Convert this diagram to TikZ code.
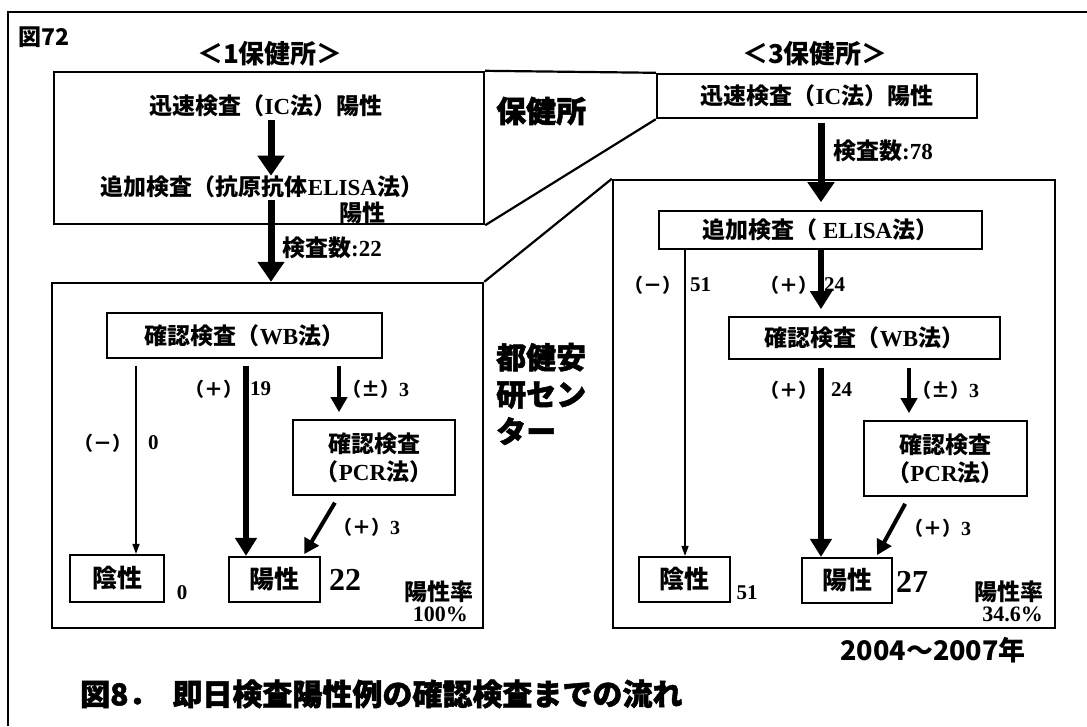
\documentclass[tikz,border=0pt]{standalone}
\usepackage{fontspec}
\setmainfont{Noto Sans CJK JP}
\newfontfamily\rom{Liberation Serif}
\newfontfamily\heavy{Noto Sans CJK JP}[BoldFeatures={FakeBold=1.6}]
\usetikzlibrary{arrows.meta}

\newcommand{\signnum}[1]{{\rom\fontsize{20}{24}\selectfont #1}}

\tikzset{
    panel/.style={draw, line width=2.4pt, inner sep=0pt},
    testbox/.style={draw, line width=1.6pt, inner sep=0pt, align=center,
        font=\bfseries\fontsize{23}{28}\selectfont},
    resbox/.style={draw, line width=2.2pt, inner sep=0pt,
        font=\bfseries\fontsize{25}{28}\selectfont},
    jp/.style={inner sep=0pt, font=\bfseries\fontsize{23}{28}\selectfont},
    cnt/.style={inner sep=0pt, font=\bfseries\fontsize{23}{27}\selectfont},
    sign/.style={inner sep=0pt, font=\bfseries\fontsize{19}{23}\selectfont},
    num/.style={inner sep=0pt, font=\rom\bfseries\fontsize{21}{24}\selectfont},
    bignum/.style={inner sep=0pt, font=\rom\bfseries\fontsize{32}{36}\selectfont},
    rate/.style={inner sep=0pt, font=\bfseries\fontsize{23}{26}\selectfont},
    ratenum/.style={inner sep=0pt, font=\rom\bfseries\fontsize{22}{24}\selectfont},
    head/.style={inner sep=0pt, font=\bfseries\fontsize{26}{30}\selectfont},
    side/.style={inner sep=0pt, align=left, font=\heavy\bfseries\fontsize{30}{37}\selectfont},
    bigarr/.style={line width=7pt, -{Triangle[width=26pt,length=20pt]}},
    thickarr/.style={line width=5.5pt, -{Triangle[width=21pt,length=18pt]}},
    midarr/.style={line width=4pt, -{Triangle[width=16pt,length=15pt]}},
    thinarr/.style={line width=1.5pt, -{Triangle[width=7pt,length=10pt]}},
    funnel/.style={line width=2.2pt}
}

\begin{document}
\begin{tikzpicture}[x=1pt, y=-1pt]
    \useasboundingbox (0,0) rectangle (1087,726);

    % Frame
    \draw[line width=2pt] (8,726) -- (8,12) -- (1087,12);

    % Headings
    \node[head, font=\bfseries\fontsize{23}{26}\selectfont, anchor=west] (fig72) at (18,37) {図72};
    \node[head] (headL) at (270,54) {＜1保健所＞};
    \node[head] (headR) at (815,54) {＜3保健所＞};

    % 1 hokenjo, upper box
    \node[panel, minimum width=430pt, minimum height=152pt] (hcL) at (269,148) {};
    \node[jp] (icL) at (266,106) {迅速検査（{\rom IC}法）陽性};
    \node[jp] (elisaL) at (262,187) {追加検査（抗原抗体{\rom ELISA}法）};
    \node[jp] (posL) at (362,213) {陽性};
    \draw[bigarr, shorten <=3pt] (271,0 |- icL.south) -- (271,0 |- elisaL.north);

    % 1 hokenjo, lower box
    \node[panel, minimum width=431pt, minimum height=345pt] (cenL) at (267.5,455.5) {};
    \draw[bigarr, shorten <=2pt] (271,0 |- elisaL.south) -- (271,0 |- cenL.north);
    \node[cnt, anchor=west] (cntL) at (282,248) {検査数{\rom :22}};

    \node[testbox, minimum width=275pt, minimum height=45pt] (wbL) at (244.5,335.5) {確認検査（{\rom WB}法）};
    \node[testbox, minimum width=162pt, minimum height=75pt] (pcrL) at (374,457.5) {確認検査\\（{\rom PCR}法）};
    \node[resbox, minimum width=94pt, minimum height=47pt] (ngL) at (117,578.5) {陰性};
    \node[resbox, minimum width=91pt, minimum height=45pt] (psL) at (274.5,579.5) {陽性};

    \draw[thinarr, shorten <=7pt] (136,0 |- wbL.south) -- (136,0 |- ngL.north);
    \draw[thickarr, shorten <=7pt] (246,0 |- wbL.south) -- (246,0 |- psL.north);
    \draw[midarr, shorten <=7pt, shorten >=7pt] (339,0 |- wbL.south) -- (339,0 |- pcrL.north);
    \draw[midarr, shorten <=8pt, shorten >=2pt] (339,0 |- pcrL.south) -- ([xshift=-18pt]psL.north east);

    \node[sign, anchor=east] (mnL) at (132,443) {（－）};
    \node[num, anchor=west] (mnLn) at (148,443) {0};
    \node[sign, anchor=east] (plL) at (243,389) {（＋）};
    \node[num, anchor=west] (plLn) at (250,389) {19};
    \node[sign, anchor=west] (pmL) at (342,389) {（±）\signnum{3}};
    \node[sign, anchor=west] (pcL) at (333,527) {（＋）\signnum{3}};

    \node[num] (ngLn) at (182,593) {0};
    \node[bignum] (psLn) at (345,580) {22};
    \node[rate, anchor=east] (rateL) at (474,592) {陽性率};
    \node[ratenum, anchor=east] (rateLn) at (468,614) {100\%};

    % 3 hokenjo
    \node[testbox, line width=2.4pt, minimum width=320pt, minimum height=44pt] (hcR) at (817,96) {迅速検査（{\rom IC}法）陽性};
    \node[panel, minimum width=442pt, minimum height=448pt] (cenR) at (834,404) {};
    \node[testbox, minimum width=323pt, minimum height=38pt] (elisaR) at (820.5,230) {追加検査（ {\rom ELISA}法）};
    \node[testbox, minimum width=271pt, minimum height=42pt] (wbR) at (864.5,338) {確認検査（{\rom WB}法）};
    \node[testbox, minimum width=163pt, minimum height=75pt] (pcrR) at (945.5,458.5) {確認検査\\（{\rom PCR}法）};
    \node[resbox, minimum width=91pt, minimum height=45pt] (ngR) at (684.5,579.5) {陰性};
    \node[resbox, minimum width=90pt, minimum height=45pt] (psR) at (847,580.5) {陽性};

    \draw[bigarr, shorten <=4pt, shorten >=8pt] (821,0 |- hcR.south) -- (821,0 |- elisaR.north);
    \node[cnt, anchor=west] (cntR) at (833,151) {検査数{\rom :78}};

    \draw[thinarr] (685,0 |- elisaR.south) -- (685,0 |- ngR.north);
    \draw[thickarr, shorten >=7pt] (821,0 |- elisaR.south) -- (821,0 |- wbR.north);
    \draw[thickarr, shorten <=8pt] (821,0 |- wbR.south) -- (821,0 |- psR.north);
    \draw[midarr, shorten <=8pt, shorten >=7pt] (909,0 |- wbR.south) -- (909,0 |- pcrR.north);
    \draw[midarr, shorten <=8pt, shorten >=2pt] (909,0 |- pcrR.south) -- ([xshift=-17pt]psR.north east);

    \node[sign, anchor=east] (mnR) at (682,285) {（－）};
    \node[num, anchor=west] (mnRn) at (690,285) {51};
    \node[sign, anchor=east] (plR) at (818,285) {（＋）};
    \node[num, anchor=west] (plRn) at (824,285) {24};
    \node[sign, anchor=east] (pl2R) at (818,390) {（＋）};
    \node[num, anchor=west] (pl2Rn) at (831,390) {24};
    \node[sign, anchor=west] (pmR) at (912,390) {（±）\signnum{3}};
    \node[sign, anchor=west] (pcR) at (904,528) {（＋）\signnum{3}};

    \node[num] (ngRn) at (747,593) {51};
    \node[bignum] (psRn) at (912,582) {27};
    \node[rate, anchor=east] (rateR) at (1044,592) {陽性率};
    \node[ratenum, anchor=east] (rateRn) at (1043,614) {34.6\%};

    % Funnel lines between the two sides
    \draw[funnel] (hcL.north east) -- (hcR.north west);
    \draw[funnel] (hcL.south east) -- (hcR.south west);
    \draw[funnel] (cenL.north east) -- (cenR.north west);

    % Side labels
    \node[side, anchor=west] (hoken) at (496,111) {保健所};
    \node[side, anchor=west] (token) at (496,394) {都健安\\研セン\\ター};

    % Caption
    \node[head, font=\bfseries\fontsize{27}{30}\selectfont, anchor=east] (years) at (1026,650) {2004～2007年};
    \node[side, anchor=west] (caption) at (80,694) {図8．\hspace{14pt}即日検査陽性例の確認検査までの流れ};

\end{tikzpicture}
\end{document}
